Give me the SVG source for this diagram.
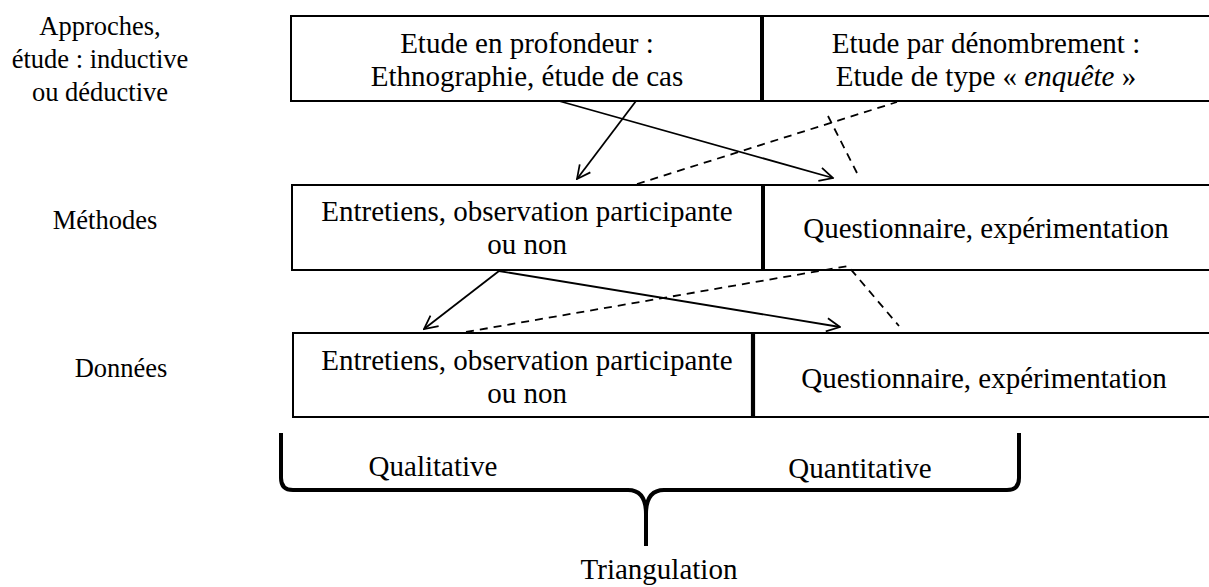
<svg xmlns="http://www.w3.org/2000/svg" width="1209" height="587" viewBox="0 0 1209 587" font-family="'Liberation Serif', 'Times New Roman', serif">
<style>
.box{fill:#fff;stroke:#000;stroke-width:2}
.div{stroke:#000;stroke-width:4}
.t{font-family:'Liberation Serif','Times New Roman',serif;font-size:29px;fill:#000;text-anchor:middle}
.l{font-family:'Liberation Serif','Times New Roman',serif;font-size:26.5px;fill:#000;text-anchor:middle}
.c{fill:none;stroke:#000;stroke-width:1.8}
.d{fill:none;stroke:#000;stroke-width:1.8;stroke-dasharray:8 6}
</style>
<defs>
<marker id="ah" viewBox="0 0 12 12" refX="11" refY="6" markerWidth="16" markerHeight="16" markerUnits="userSpaceOnUse" orient="auto">
<path d="M1,1 L11,6 L1,11" fill="none" stroke="#000" stroke-width="1.3"/>
</marker>
</defs>
<rect width="1209" height="587" fill="#fff"/>

<g id="labels">
<text class="l" x="100" y="35">Approches,</text>
<text class="l" x="100" y="68">étude : inductive</text>
<text class="l" x="100" y="101">ou déductive</text>
<text class="l" x="105" y="229">Méthodes</text>
<text class="l" x="121" y="377">Données</text>
</g>

<g id="approche-qual">
<rect class="box" x="291" y="16" width="471" height="85"/>
<text class="t" x="527" y="53">Etude en profondeur :</text>
<text class="t" x="527" y="86">Ethnographie, étude de cas</text>
</g>
<g id="approche-quant">
<rect class="box" x="762" y="16" width="452" height="85"/>
<text class="t" x="986" y="53">Etude par dénombrement :</text>
<text class="t" x="986" y="86">Etude de type « <tspan font-style="italic">enquête</tspan> »</text>
</g>
<line class="div" x1="762" y1="16" x2="762" y2="101"/>

<g id="methode-qual">
<rect class="box" x="292" y="185" width="471" height="85"/>
<text class="t" x="527" y="221">Entretiens, observation participante</text>
<text class="t" x="527" y="254">ou non</text>
</g>
<g id="methode-quant">
<rect class="box" x="763" y="185" width="452" height="85"/>
<text class="t" x="986" y="238">Questionnaire, expérimentation</text>
</g>
<line class="div" x1="763" y1="185" x2="763" y2="270"/>

<g id="donnees-qual">
<rect class="box" x="293" y="333" width="460" height="84"/>
<text class="t" x="527" y="370">Entretiens, observation participante</text>
<text class="t" x="527" y="403">ou non</text>
</g>
<g id="donnees-quant">
<rect class="box" x="753" y="333" width="462" height="84"/>
<text class="t" x="984" y="388">Questionnaire, expérimentation</text>
</g>
<line stroke="#000" stroke-width="1.2" x1="751.5" y1="333" x2="751.5" y2="417"/>
<line stroke="#000" stroke-width="1.2" x1="754.5" y1="333" x2="754.5" y2="417"/>

<g id="connectors">
<line class="c" x1="636" y1="101" x2="577" y2="179" marker-end="url(#ah)"/>
<line class="c" x1="559" y1="101" x2="833" y2="178" marker-end="url(#ah)"/>
<line class="d" x1="637" y1="184" x2="897" y2="102"/>
<line class="d" x1="828" y1="116" x2="857" y2="173"/>
<line class="c" x1="499" y1="271" x2="424" y2="329" marker-end="url(#ah)"/>
<line class="c" x1="499" y1="271" x2="840" y2="327" marker-end="url(#ah)"/>
<polyline class="d" points="466,332 848,266 899,326"/>
</g>

<g id="bracket">
<path d="M281,433 L281,478 Q281,490 293,490 L628,490 Q646,490 646,514 L646,546 M646,514 Q646,490 664,490 L1007,490 Q1019,490 1019,478 L1019,433" fill="none" stroke="#000" stroke-width="4"/>
<text class="t" x="433" y="476">Qualitative</text>
<text class="t" x="860" y="478">Quantitative</text>
<text class="t" x="659" y="579">Triangulation</text>
</g>
</svg>
